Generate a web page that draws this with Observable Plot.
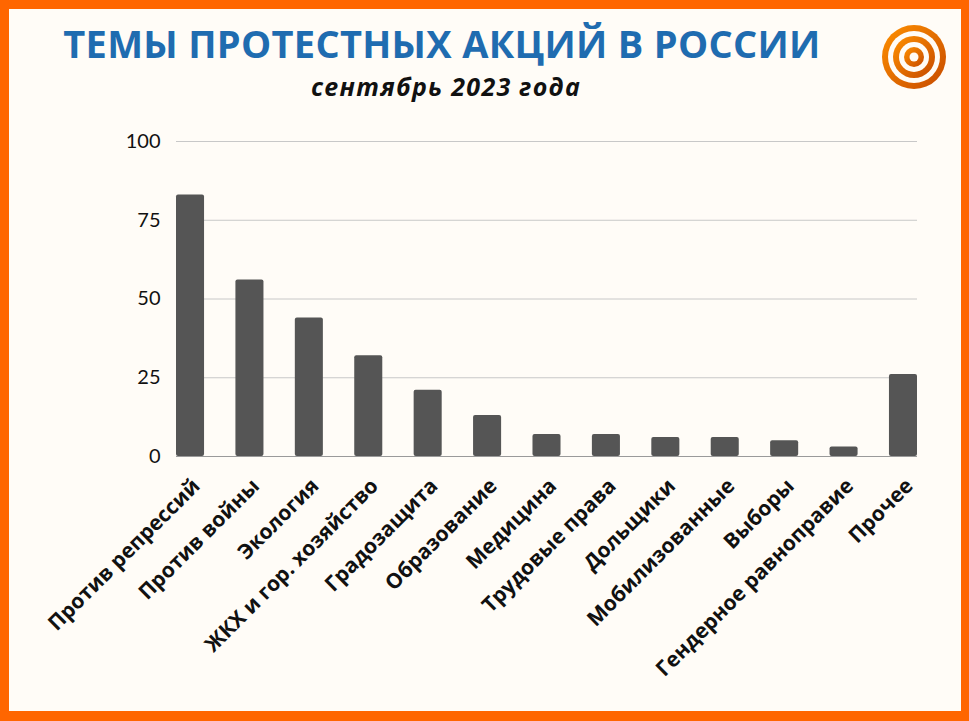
<!DOCTYPE html>
<html><head><meta charset="utf-8">
<script src="https://cdn.jsdelivr.net/npm/d3@7"></script>
<script src="https://cdn.jsdelivr.net/npm/@observablehq/plot@0.6"></script>
<style>
html,body{margin:0;padding:0;}
#page{position:relative;width:969px;height:721px;background:#ff6600;overflow:hidden;}
#inner{position:absolute;left:9px;top:9px;width:952px;height:702px;background:#fffcf7;}
#title{position:absolute;left:0;width:884px;top:17px;text-align:center;font-family:"Open Sans";font-weight:700;font-size:38px;color:#1f6cb0;letter-spacing:0.3px;}
#subtitle{position:absolute;left:0;width:892px;top:69px;text-align:center;font-family:"Open Sans";font-weight:700;font-style:italic;font-size:25px;color:#111;letter-spacing:1.3px;}
#chart{position:absolute;left:0;top:0;}
#logo{position:absolute;left:881px;top:24px;}
</style></head>
<body>
<div id="page">
<div id="inner"></div>
<div id="title">ТЕМЫ ПРОТЕСТНЫХ АКЦИЙ В РОССИИ</div>
<div id="subtitle">сентябрь 2023 года</div>
<div id="chart"></div>
<svg id="logo" width="66" height="66" viewBox="0 0 66 66">
<defs><linearGradient id="lg" x1="0" y1="0" x2="1" y2="1"><stop offset="0" stop-color="#ff9000"/><stop offset="1" stop-color="#c64a00"/></linearGradient></defs>
<circle cx="33" cy="33" r="32" fill="url(#lg)"/>
<circle cx="33" cy="33" r="26" fill="#fffcf7"/>
<circle cx="33" cy="33" r="21" fill="url(#lg)"/>
<circle cx="33" cy="33" r="15" fill="#fffcf7"/>
<circle cx="33" cy="33" r="10" fill="url(#lg)"/>
<circle cx="33" cy="33" r="4.5" fill="#fffcf7"/>
</svg>
</div>
<script>
const categories = ["Против репрессий","Против войны","Экология","ЖКХ и гор. хозяйство","Градозащита","Образование","Медицина","Трудовые права","Дольщики","Мобилизованные","Выборы","Гендерное равноправие","Прочее"];
const values = [83,56,44,32,21,13,7,7,6,6,5,3,26];
const yTicks = [0,25,50,75,100];
const data = categories.map((c,i)=>({category:c, value:values[i]}));

const chart = Plot.plot({
  width: 969,
  height: 721,
  marginLeft: 176,
  marginRight: 52,
  marginTop: 141,
  marginBottom: 265,
  style: {background: "transparent", fontFamily: "Lato", color: "#111"},
  x: {domain: categories, paddingInner: 0.528, paddingOuter: 0, round: false, label: null},
  y: {domain: [0,100], label: null},
  marks: [
    Plot.gridY(yTicks, {stroke: "#c8c8c8", strokeOpacity: 1, strokeWidth: 1}),
    Plot.barY(data, {x: "category", y: "value", fill: "#555555", rx: 2}),
    Plot.ruleY([0], {stroke: "#9a9a9a", strokeWidth: 1.2}),
    Plot.axisY(yTicks, {tickSize: 0, tickPadding: 16, fontSize: 20, fill: "#111", fontFamily: "Lato", label: null}),
    Plot.axisX({tickSize: 0, tickRotate: -45, tickPadding: 10, fontSize: 21, fontWeight: 700, fontFamily: "Open Sans", fill: "#111", label: null, dx: 6, dy: 16})
  ]
});
document.getElementById("chart").appendChild(chart);
</script>
</body></html>
